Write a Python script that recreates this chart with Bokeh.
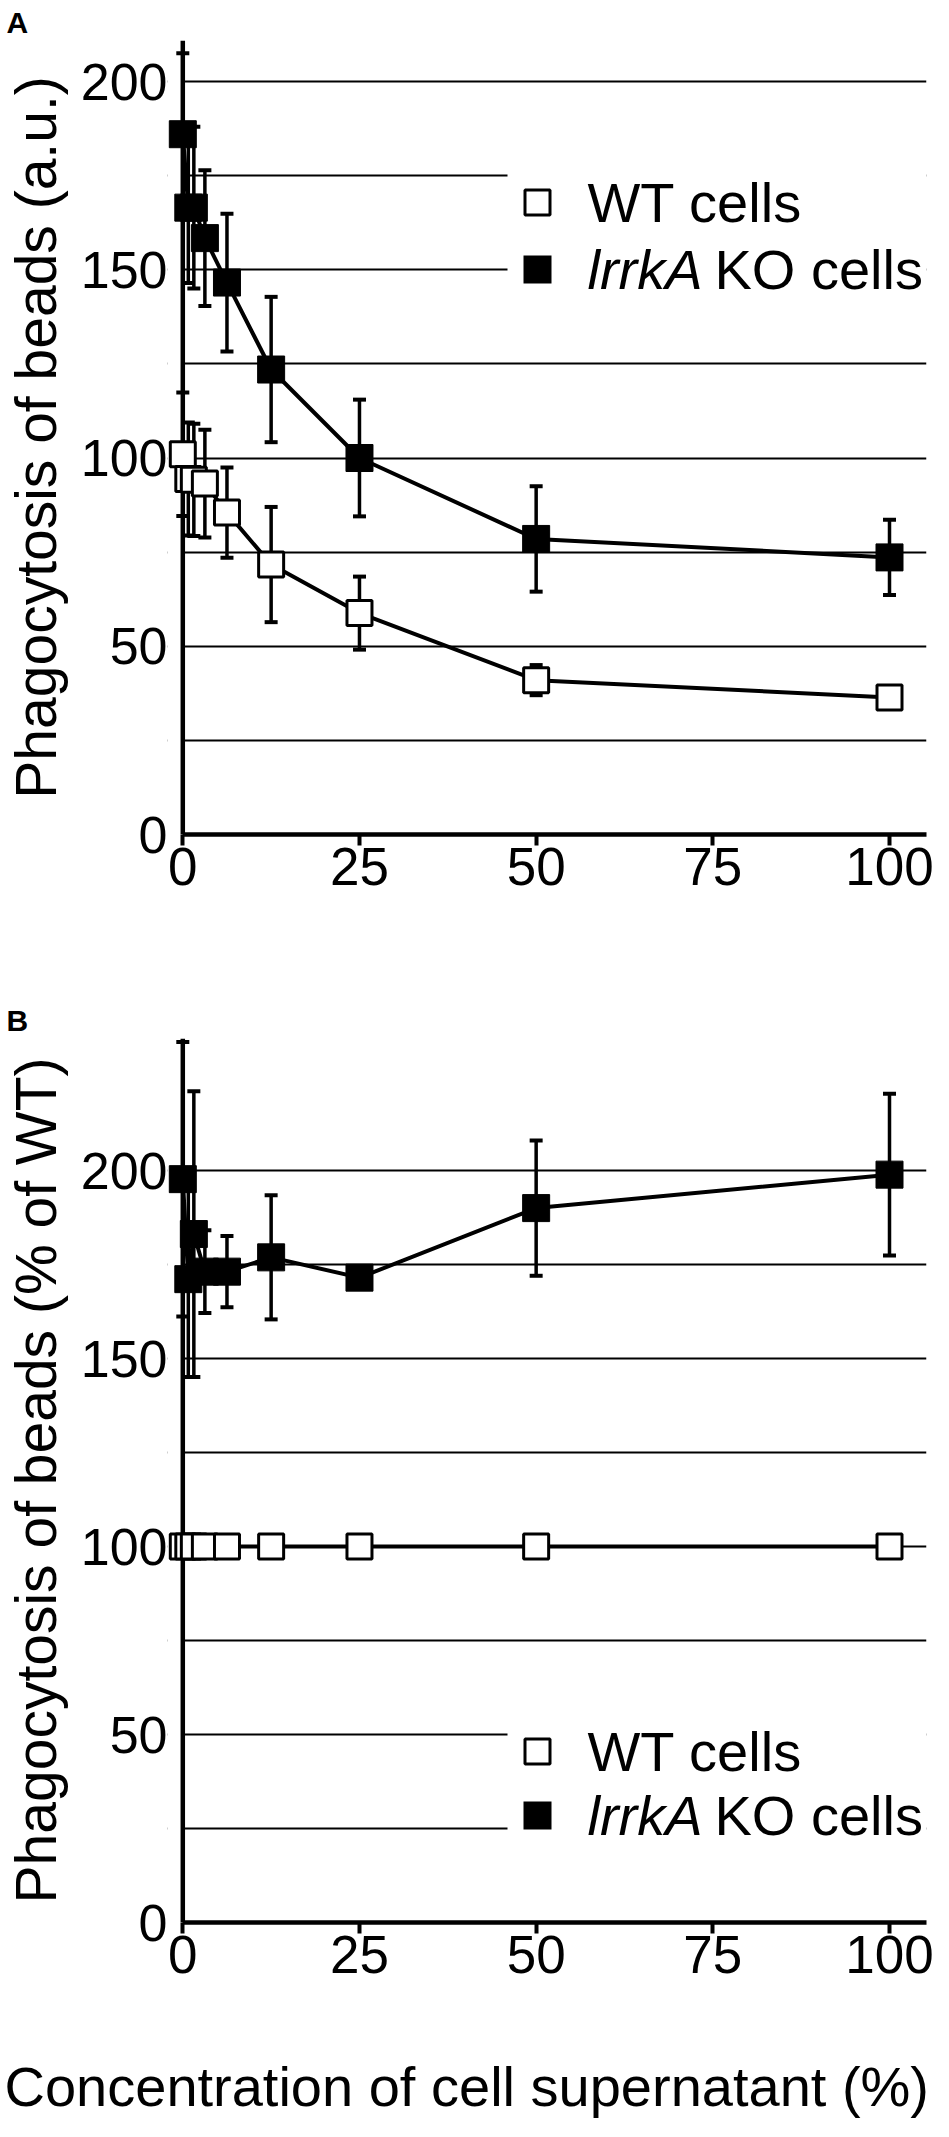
from bokeh.plotting import figure
from bokeh.layouts import column
from bokeh.models import (Range1d, FixedTicker, Span, BoxAnnotation, Label, Title,
                          ColumnDataSource)
from bokeh.embed import file_html
from bokeh.resources import INLINE

# ---------------- data ----------------
CONC = [0, 0.78, 1.5625, 3.125, 6.25, 12.5, 25, 50, 100]
X_TICKS = [0, 25, 50, 75, 100]
Y_TICKS = [0, 50, 100, 150, 200]
GRID_TICKS = [25, 50, 75, 100, 125, 150, 175, 200]

WT_A = [101.0, 94.4, 94.2, 93.2, 85.5, 71.7, 58.8, 41.0, 36.4]
WT_A_ERR = [16.4, 15.0, 14.9, 14.3, 12.0, 15.3, 9.7, 4.0, 1.0]
KO_A = [186.0, 166.5, 166.5, 158.4, 146.6, 123.5, 100.0, 78.5, 73.6]
KO_A_ERR = [21.5, 20.0, 21.5, 18.0, 18.3, 19.3, 15.5, 14.0, 10.0]

WT_B = [100, 100, 100, 100, 100, 100, 100, 100, 100]
WT_B_ERR = [0, 0, 0, 0, 0, 0, 0, 0, 0]
KO_B = [197.7, 171.1, 183.1, 173.1, 173.1, 176.9, 171.5, 190.0, 198.9]
KO_B_ERR = [36.5, 26.0, 38.0, 11.0, 9.5, 16.5, 1.0, 18.0, 21.5]

WT_LABEL = "WT cells"
KO_LABEL_ITALIC = "lrrkA"
KO_LABEL_REST = "KO cells"
Y_TITLE_A = "Phagocytosis of beads (a.u.)"
Y_TITLE_B = "Phagocytosis of beads (% of WT)"
X_TITLE = "Concentration of cell supernatant (%)"

# ---------------- layout (page pixels) ----------------
FONT = "Liberation Sans"
PAGE_LEFT = 8
BORDER_LEFT = 165
FRAME_W = 759
BORDER_RIGHT = 9
AXIS_PX = 188.3          # page x of concentration 0
PX_PER_X = 7.067
FRAME_LEFT_PX = PAGE_LEFT + BORDER_LEFT
X_START = (FRAME_LEFT_PX - AXIS_PX) / PX_PER_X
X_END = X_START + FRAME_W / PX_PER_X


def px_x(px):
    return (px - AXIS_PX) / PX_PER_X


def make_panel(wt, wt_err, ko, ko_err, y_title, letter, canvas_top, frame_top,
               zero_py, px_per_y, canvas_bottom, leg_rows, leg_bg):
    def py(v):
        return (zero_py - v) / px_per_y

    frame_h = zero_py - frame_top
    y_end = frame_h / px_per_y
    p = figure(frame_width=FRAME_W, frame_height=int(round(frame_h)),
               min_border_left=BORDER_LEFT, min_border_right=BORDER_RIGHT,
               min_border_top=int(frame_top - canvas_top),
               min_border_bottom=int(round(canvas_bottom - zero_py)),
               x_range=Range1d(X_START, X_END), y_range=Range1d(0, y_end),
               toolbar_location=None, output_backend="svg",
               outline_line_color=None, background_fill_color="white",
               border_fill_color="white")

    # panel letter as a left-aligned title above the frame
    p.add_layout(Title(text=letter, align="left", offset=12 - FRAME_LEFT_PX,
                       text_font=FONT, text_font_size="30px", text_font_style="bold",
                       text_color="black", standoff=4), "above")

    # axes
    xa = p.xaxis[0]
    xa.ticker = FixedTicker(ticks=X_TICKS)
    xa.bounds = (0, X_END)
    xa.axis_line_width = 4.5
    xa.axis_line_color = "black"
    xa.major_tick_out = 11
    xa.major_tick_in = 0
    xa.major_tick_line_width = 4
    xa.major_tick_line_color = "black"
    xa.minor_tick_line_color = None
    xa.major_label_standoff = 2
    xa.major_label_text_font = FONT
    xa.major_label_text_font_size = "53px"
    xa.major_label_text_color = "black"

    ya = p.yaxis[0]
    ya.ticker = FixedTicker(ticks=Y_TICKS)
    ya.axis_line_color = None
    ya.major_tick_line_color = None
    ya.minor_tick_line_color = None
    ya.major_tick_out = 0
    ya.major_tick_in = 0
    ya.major_label_standoff = 0
    ya.major_label_text_font = FONT
    ya.major_label_text_font_size = "52px"
    ya.major_label_text_color = "black"
    ya.axis_label = y_title
    ya.axis_label_text_font = FONT
    ya.axis_label_text_font_size = "57px"
    ya.axis_label_text_font_style = "normal"
    ya.axis_label_text_color = "black"
    ya.axis_label_standoff = 10

    p.xgrid.visible = False
    p.ygrid.ticker = FixedTicker(ticks=GRID_TICKS)
    p.ygrid.grid_line_color = "black"
    p.ygrid.grid_line_width = 1.8

    # hide grid stubs left of the y axis, and behind the legend
    p.add_layout(BoxAnnotation(right=0, fill_color="white", fill_alpha=1.0,
                               line_alpha=0, level="underlay"))
    p.add_layout(BoxAnnotation(left=px_x(513), top=py(leg_bg[0]), bottom=py(leg_bg[1]),
                               fill_color="white", fill_alpha=1.0, line_alpha=0,
                               level="underlay"))
    # y axis line
    p.add_layout(Span(location=0, dimension="height", line_color="black",
                      line_width=4.5, level="underlay"))

    # data
    for vals, errs, fill, size, lw in ((wt, wt_err, "white", 25, 3), (ko, ko_err, "black", 27, 1)):
        src = ColumnDataSource(dict(
            x=CONC, y=vals,
            lo=[v - e for v, e in zip(vals, errs)],
            hi=[v + e for v, e in zip(vals, errs)]))
        p.segment(x0="x", y0="lo", x1="x", y1="hi", source=src,
                  line_color="black", line_width=3.5)
        p.scatter(x="x", y="hi", source=src, marker="dash", size=13,
                  line_color="black", line_width=4)
        p.scatter(x="x", y="lo", source=src, marker="dash", size=13,
                  line_color="black", line_width=4)
        p.line(x="x", y="y", source=src, line_color="black", line_width=4)
        p.scatter(x="x", y="y", source=src, marker="square", size=size,
                  fill_color=fill, line_color="black", line_width=lw)

    # legend (custom, so that lrrkA can be italic)
    half_x = 12.5 / PX_PER_X
    half_y = 12.5 / px_per_y
    wt_row, ko_row = leg_rows
    p.add_layout(BoxAnnotation(left=px_x(543) - half_x, right=px_x(543) + half_x,
                               bottom=py(wt_row) - half_y, top=py(wt_row) + half_y,
                               fill_color="white", fill_alpha=1.0,
                               line_color="black", line_width=3, line_alpha=1.0))
    p.add_layout(BoxAnnotation(left=px_x(543) - half_x - 1.5 / PX_PER_X,
                               right=px_x(543) + half_x + 1.5 / PX_PER_X,
                               bottom=py(ko_row) - half_y - 1.5 / px_per_y,
                               top=py(ko_row) + half_y + 1.5 / px_per_y,
                               fill_color="black", fill_alpha=1.0,
                               line_alpha=0))
    common = dict(text_font=FONT, text_font_size="56px", text_color="black",
                  text_baseline="middle", text_align="left")
    p.add_layout(Label(x=px_x(593), y=py(wt_row), text=WT_LABEL, **common))
    p.add_layout(Label(x=px_x(593), y=py(ko_row), text=KO_LABEL_ITALIC,
                       text_font_style="italic", **common))
    p.add_layout(Label(x=px_x(720), y=py(ko_row), text=KO_LABEL_REST, **common))
    return p


pA = make_panel(WT_A, WT_A_ERR, KO_A, KO_A_ERR, Y_TITLE_A, "A",
                canvas_top=8, frame_top=48, zero_py=842, px_per_y=3.765,
                canvas_bottom=930, leg_rows=(210, 277), leg_bg=(150, 320))
pB = make_panel(WT_B, WT_B_ERR, KO_B, KO_B_ERR, Y_TITLE_B, "B",
                canvas_top=930, frame_top=1046, zero_py=1930, px_per_y=3.76,
                canvas_bottom=2010, leg_rows=(1759, 1823), leg_bg=(1700, 1880))

# strip holding the shared x-axis title (a title sitting just above a 1-px frame)
STRIP_TOP = 2010
STRIP_FRAME_TOP = 2126
STRIP_BOTTOM = 2129
pT = figure(frame_width=FRAME_W, frame_height=STRIP_BOTTOM - STRIP_FRAME_TOP - 2,
            min_border_left=BORDER_LEFT, min_border_right=BORDER_RIGHT,
            min_border_top=STRIP_FRAME_TOP - STRIP_TOP, min_border_bottom=2,
            x_range=Range1d(0, 1), y_range=Range1d(0, 1),
            x_axis_type=None, y_axis_type=None, toolbar_location=None,
            output_backend="svg", outline_line_color=None,
            background_fill_color="white", border_fill_color="white")
pT.xgrid.visible = False
pT.ygrid.visible = False
pT.add_layout(Title(text=X_TITLE, align="left", offset=10 - FRAME_LEFT_PX,
                    text_font=FONT, text_font_size="56px", text_font_style="normal",
                    text_color="black", standoff=1), "above")

layout = column(pA, pB, pT, spacing=0)
open("out.html", "w").write(file_html(layout, INLINE))
